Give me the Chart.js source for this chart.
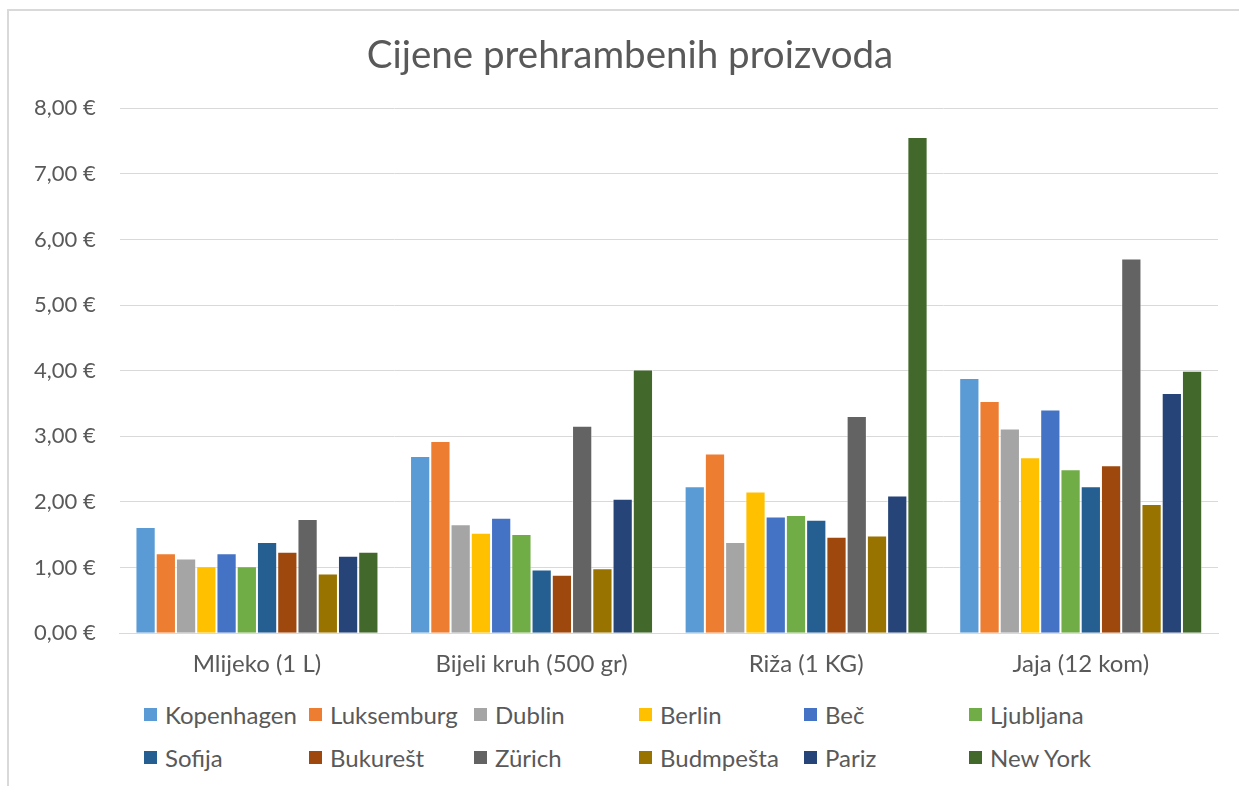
<!DOCTYPE html>
<html>
<head>
<meta charset="utf-8">
<script src="https://cdn.jsdelivr.net/npm/chart.js@4"></script>
<style>
  body { margin: 0; background: #fff; font-family: Lato, sans-serif; }
  #wrap { position: relative; width: 1239px; height: 786px; overflow: hidden; }
  #frame { position: absolute; left: 7px; top: 9px; width: 1300px; height: 900px; border-left: 2px solid #d9d9d9; border-top: 2px solid #d9d9d9; }
  #chartBox { position: absolute; left: 0; top: 0; width: 1239px; height: 700px; }
  #legend { position: absolute; left: 144px; top: 700px; display: grid; grid-template-columns: repeat(6, 165px); row-gap: 15px; }
  .item { display: flex; align-items: center; font-size: 24px; color: #595959; height: 28px; white-space: nowrap; }
  .box { width: 13px; height: 13px; margin-right: 8px; }
</style>
</head>
<body>
<div id="wrap">
  <div id="frame"></div>
  <div id="chartBox"><canvas id="prices"></canvas></div>
  <div id="legend"></div>
</div>
<script>
const categories = ["Mlijeko (1 L)", "Bijeli kruh (500 gr)", "Riža (1 KG)", "Jaja (12 kom)"];
const cities = ["Kopenhagen", "Luksemburg", "Dublin", "Berlin", "Beč", "Ljubljana",
                "Sofija", "Bukurešt", "Zürich", "Budmpešta", "Pariz", "New York"];
const colors = ["#5B9BD5", "#ED7D31", "#A5A5A5", "#FFC000", "#4472C4", "#70AD47",
                "#255E91", "#9E480E", "#636363", "#997300", "#264478", "#43682B"];

// one array per city: milk, bread, rice, eggs
const kopenhagen = [1.62, 2.70, 2.24, 3.89];
const luksemburg = [1.22, 2.93, 2.74, 3.54];
const dublin = [1.14, 1.66, 1.39, 3.12];
const berlin = [1.02, 1.53, 2.16, 2.68];
const bec = [1.22, 1.76, 1.78, 3.41];
const ljubljana = [1.02, 1.51, 1.80, 2.50];
const sofija = [1.39, 0.97, 1.73, 2.24];
const bukurest = [1.24, 0.89, 1.47, 2.56];
const zurich = [1.74, 3.16, 3.31, 5.71];
const budimpesta = [0.91, 0.99, 1.49, 1.97];
const pariz = [1.18, 2.05, 2.10, 3.66];
const newYork = [1.24, 4.02, 7.56, 4.00];

const values = [kopenhagen, luksemburg, dublin, berlin, bec, ljubljana,
                sofija, bukurest, zurich, budimpesta, pariz, newYork];

const yTicks = [0, 1, 2, 3, 4, 5, 6, 7, 8];

const textColor = "#595959";

const datasets = cities.map((city, i) => ({
    label: city,
    data: values[i],
    backgroundColor: colors[i],
    borderColor: "rgba(255,255,255,0.5)",
    borderWidth: 1,
    categoryPercentage: 0.885,
    barPercentage: 1
}));

// title sits a bit right of the canvas centre in the original
const titleShift = {
    id: 'titleShift',
    afterLayout(chart) {
        if (chart.titleBlock) {
            chart.titleBlock.left += 16;
            chart.titleBlock.right += 16;
        }
    }
};

const chart = new Chart(document.getElementById("prices"), {
    type: 'bar',
    data: { labels: categories, datasets: datasets },
    plugins: [titleShift],
    options: {
        responsive: true,
        maintainAspectRatio: false,
        animation: false,
        layout: { padding: { left: 10, right: 21, top: 10, bottom: 12 } },
        plugins: {
            legend: { display: false },
            tooltip: { enabled: false },
            title: {
                display: true,
                text: "Cijene prehrambenih proizvoda",
                color: textColor,
                font: { family: "Lato", size: 38.5, weight: 'normal' },
                padding: { top: 22, bottom: 30 }
            }
        },
        scales: {
            x: {
                grid: { display: false },
                border: { color: "#d9d9d9" },
                ticks: { color: textColor, font: { family: "Lato", size: 24 }, padding: 9 }
            },
            y: {
                min: 0,
                max: yTicks[yTicks.length - 1],
                afterBuildTicks: axis => { axis.ticks = yTicks.map(v => ({ value: v })); },
                grid: { color: "#d9d9d9", drawTicks: false },
                border: { display: false },
                ticks: {
                    color: textColor,
                    font: { family: "Lato", size: 22 },
                    padding: 24,
                    callback: v => v.toFixed(2).replace(".", ",") + " €"
                }
            }
        }
    }
});

// legend in fixed columns, like the original
const legendDiv = document.getElementById("legend");
chart.data.datasets.forEach(ds => {
    const item = document.createElement("div");
    item.className = "item";
    item.innerHTML = '<span class="box" style="background:' + ds.backgroundColor + '"></span>' + ds.label;
    legendDiv.appendChild(item);
});
</script>
</body>
</html>
